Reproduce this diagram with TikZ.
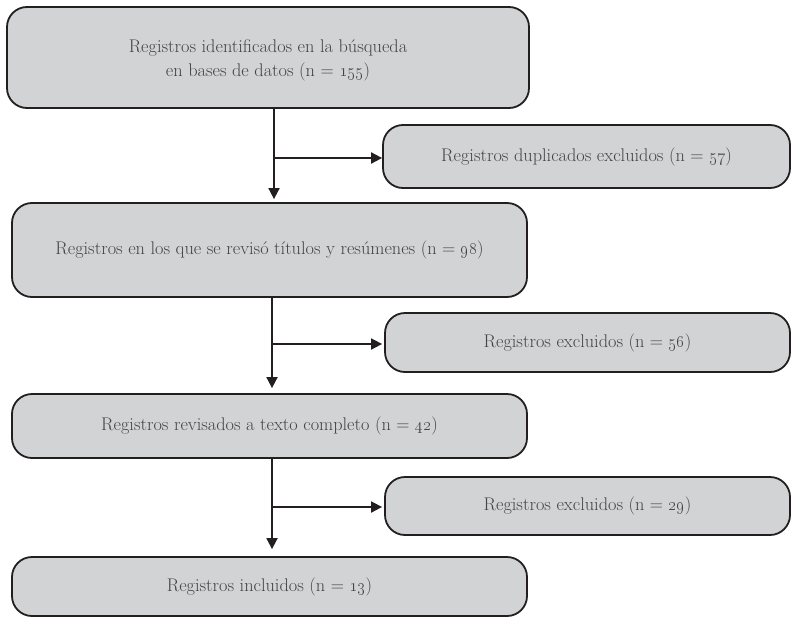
\documentclass[tikz,border=0pt]{standalone}
\usetikzlibrary{arrows.meta,calc}
\definecolor{boxfill}{RGB}{209,211,212}
\definecolor{boxline}{RGB}{35,31,32}
\definecolor{txt}{RGB}{68,67,69}
\begin{document}
\begin{tikzpicture}[x=1pt,y=-1pt,
  stage/.style={draw=boxline, line width=1.8pt, fill=boxfill, rounded corners=20pt,
    rectangle, inner sep=0pt, text=txt, align=center,
    font=\fontsize{18.3}{24}\selectfont},
  conn/.style={draw=boxline, line width=1.8pt},
  arr/.style={conn, -{Triangle[length=11pt,width=11pt]}}
]
\useasboundingbox (0,0) rectangle (791,618);
\node[stage, minimum width=522pt, minimum height=101pt] (b1) at (268,57.5)
  {\rule{0pt}{19pt}Registros identificados en la búsqueda\\en bases de datos (n = \oldstylenums{155})};
\node[stage, minimum width=407pt, minimum height=63pt] (s1) at (586.5,156.5)
  {Registros duplicados excluidos (n = \oldstylenums{57})};
\node[stage, minimum width=515pt, minimum height=94pt] (b2) at (269.5,250)
  {Registros en los que se revisó títulos y resúmenes (n = \oldstylenums{98})};
\node[stage, minimum width=405pt, minimum height=59pt] (s2) at (587.5,342.5)
  {Registros excluidos (n = \oldstylenums{56})};
\node[stage, minimum width=515pt, minimum height=64pt] (b3) at (269.5,426)
  {Registros revisados a texto completo (n = \oldstylenums{42})};
\node[stage, minimum width=405pt, minimum height=58pt] (s3) at (587.5,506)
  {Registros excluidos (n = \oldstylenums{29})};
\node[stage, minimum width=515pt, minimum height=59pt] (b4) at (269.5,586.5)
  {Registros incluidos (n = \oldstylenums{13})};
\coordinate (j1) at (274,158);
\coordinate (j2) at (272,344);
\coordinate (j3) at (272,507);
\draw[conn] (b1.south -| j1) -- (j1);
\draw[arr] (j1) -- (j1 -| s1.west);
\draw[arr, shorten >=3pt] (j1) -- (b2.north -| j1);
\draw[conn] (b2.south -| j2) -- (j2);
\draw[arr, shorten >=2pt] (j2) -- (j2 -| s2.west);
\draw[arr, shorten >=5pt] (j2) -- (b3.north -| j2);
\draw[conn] (b3.south -| j3) -- (j3);
\draw[arr, shorten >=2pt] (j3) -- (j3 -| s3.west);
\draw[arr, shorten >=7pt] (j3) -- (b4.north -| j3);
\end{tikzpicture}
\end{document}
